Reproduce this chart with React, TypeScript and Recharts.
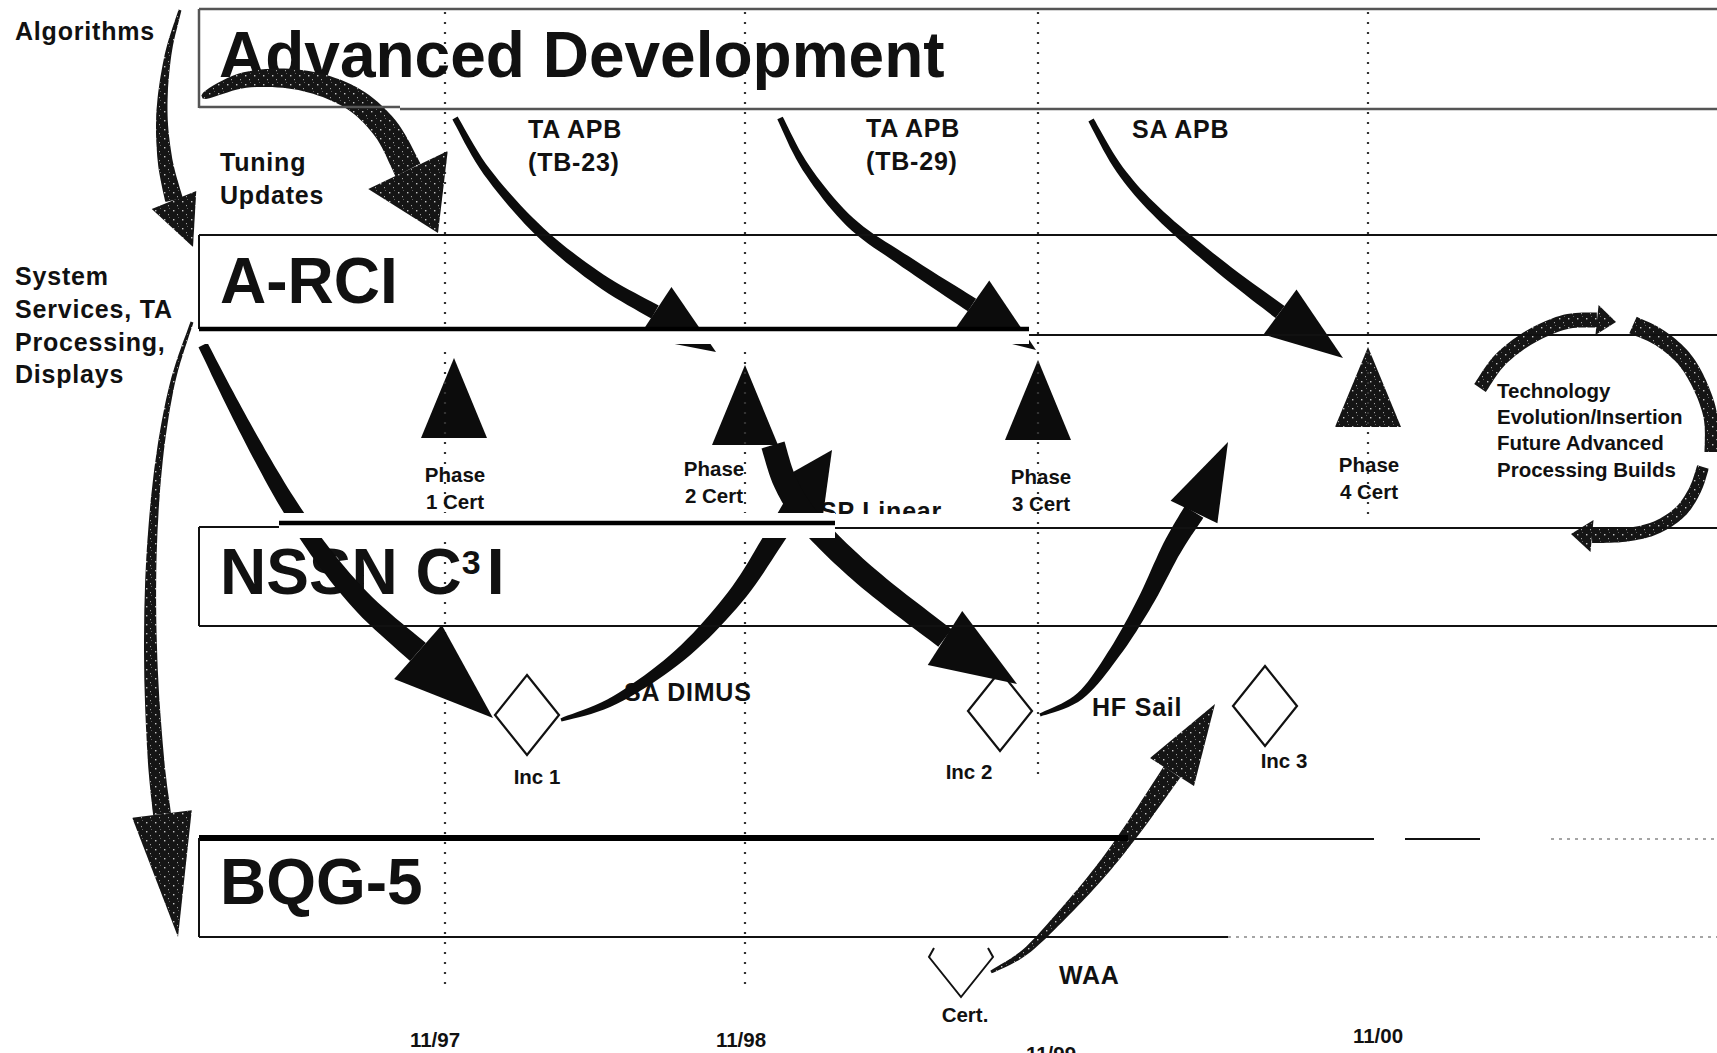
import React from "react";
import { ComposedChart, XAxis, YAxis, Line, Scatter, ReferenceLine, ReferenceArea } from "recharts";

const W = 1717;
const H = 1053;
const FONT = "'Liberation Sans', Arial, Helvetica, sans-serif";

// dotted schedule guides and the dates under them
const dateTicks = ["11/97", "11/98", "11/99", "11/00"];
const guideX = [445, 745, 1038, 1368];
const guideEnd = [987, 987, 780, 520];
const dateX = [435, 741, 1051, 1378];
const dateY = [1047, 1047, 1061, 1043];

// swim lanes
const laneNames = ["Advanced Development", "A-RCI", "NSSN C3I", "BQG-5"];
const laneTextX = [219, 220, 220, 220];
const laneTextY = [77, 303, 594, 904];

// lane outlines: x1, y1, x2, y2, weight
const laneRules: [number, number, number, number, string][] = [
  [199, 9, 1717, 9, "grey"],
  [199, 9, 199, 108, "grey"],
  [199, 107, 400, 107, "grey"],
  [400, 109, 1717, 109, "grey"],
  [199, 235, 1717, 235, "thin"],
  [199, 235, 199, 329, "thin"],
  [199, 329, 1029, 329, "thick"],
  [1029, 335, 1717, 335, "thin"],
  [199, 527, 279, 527, "thin"],
  [279, 523, 835, 523, "thick"],
  [835, 528, 1717, 528, "thin"],
  [199, 527, 199, 626, "thin"],
  [199, 626, 1717, 626, "thin"],
  [199, 838, 1128, 838, "heavy"],
  [1128, 839, 1374, 839, "thin"],
  [1405, 839, 1480, 839, "thin"],
  [1551, 839, 1717, 839, "faint"],
  [199, 838, 199, 937, "thin"],
  [199, 937, 1228, 937, "thin"],
  [1228, 937, 1717, 937, "faint"],
];

// white gaps where the lane edges cut across the arrows
const gaps: [number, number, number, number][] = [
  [199, 331, 1029, 344],
  [279, 513, 835, 538],
];

// certification milestones (triangles)
const certNames = ["1", "2", "3", "4"];
const certX = [454, 745, 1038, 1368];
const certBase = [438, 445, 440, 427];
const certLabelX = [455, 714, 1041, 1369];
const certLabelY = [482, 476, 484, 472];
const texturedCert = "4";

// increments (diamonds)
const incNames = ["Inc 1", "Inc 2", "Inc 3", "Cert."];
const incX = [527, 1000, 1265, 961];
const incY = [715, 711, 706, 957];
const incLabelX = [537, 969, 1284, 965];
const incLabelY = [784, 779, 768, 1022];

// free text
const notes: [string, number, number][] = [
  ["Algorithms", 15, 40],
  ["System", 15, 285],
  ["Services, TA", 15, 318],
  ["Processing,", 15, 351],
  ["Displays", 15, 383],
  ["Tuning", 220, 171],
  ["Updates", 220, 204],
  ["TA APB", 528, 138],
  ["(TB-23)", 528, 171],
  ["TA APB", 866, 137],
  ["(TB-29)", 866, 170],
  ["SA APB", 1132, 138],
  ["SA DIMUS", 624, 701],
  ["HF Sail", 1092, 716],
  ["WAA", 1059, 984],
];
// caption half hidden under the NSSN lane edge
const cutNotes: [string, number, number][] = [["SP Linear", 820, 520]];
const loopNotes: [string, number, number][] = [
  ["Technology", 1497, 398],
  ["Evolution/Insertion", 1497, 424],
  ["Future Advanced", 1497, 450],
  ["Processing Builds", 1497, 477],
];

// arrows, tail first, tip last
const algorithmsArrow = [[180, 10], [168, 55], [162, 110], [165, 160], [174, 200], [193, 247]];
const tuningArrow = [[202, 97], [245, 80], [300, 80], [350, 97], [385, 128], [408, 170], [438, 233]];
const tb23Arrow = [[455, 118], [487, 172], [540, 232], [600, 280], [655, 312], [716, 352]];
const tb29Arrow = [[780, 118], [806, 168], [850, 222], [906, 262], [972, 305], [1036, 350]];
const saApbArrow = [[1091, 120], [1120, 170], [1160, 215], [1222, 268], [1280, 312], [1343, 358]];
const servicesArrow = [[192, 322], [172, 385], [158, 470], [151, 570], [151, 670], [156, 760], [162, 814], [178, 937]];
const arciArrow = [[203, 345], [228, 395], [256, 448], [287, 502], [322, 554], [365, 605], [418, 652], [493, 718]];
const dimusArrow = [[561, 720], [615, 700], [680, 655], [735, 597], [773, 540], [798, 500], [832, 450]];
const phase2Arrow = [[773, 445], [785, 482], [805, 515], [835, 548], [880, 588], [945, 638], [1017, 684]];
const hfSailArrow = [[1040, 715], [1080, 696], [1115, 652], [1145, 602], [1172, 548], [1194, 512], [1228, 442]];
const waaArrow = [[991, 972], [1025, 952], [1062, 915], [1100, 872], [1132, 830], [1172, 772], [1215, 704]];
const loopTop = [[1480, 388], [1500, 360], [1530, 337], [1565, 322], [1597, 320], [1616, 322]];
const loopRight = [[1633, 325], [1660, 338], [1685, 360], [1702, 390], [1711, 420], [1711, 452]];
const loopBottom = [[1703, 467], [1695, 490], [1680, 512], [1655, 528], [1625, 535], [1592, 536], [1571, 534]];

const arrows: Record<string, number[][]> = {
  algorithms: algorithmsArrow,
  tuning: tuningArrow,
  tb23: tb23Arrow,
  tb29: tb29Arrow,
  saApb: saApbArrow,
  services: servicesArrow,
  arci: arciArrow,
  dimus: dimusArrow,
  phase2: phase2Arrow,
  hfSail: hfSailArrow,
  waa: waaArrow,
  loopTop,
  loopRight,
  loopBottom,
};

type ArrowStyle = { w0: number; w1: number; head: number; grow?: number; speck?: boolean };
const arrowStyle: Record<string, ArrowStyle> = {
  algorithms: { w0: 3, w1: 18, head: 24, speck: true },
  tuning: { w0: 3, w1: 28, head: 44, grow: 0.4, speck: true },
  tb23: { w0: 6, w1: 15, head: 30 },
  tb29: { w0: 6, w1: 15, head: 30 },
  saApb: { w0: 6, w1: 15, head: 28 },
  services: { w0: 3, w1: 18, head: 30, speck: true },
  arci: { w0: 10, w1: 24, head: 36 },
  dimus: { w0: 3, w1: 22, head: 30, grow: 0.7 },
  phase2: { w0: 24, w1: 22, head: 32 },
  hfSail: { w0: 3, w1: 22, head: 26, grow: 0.8 },
  waa: { w0: 3, w1: 20, head: 26, grow: 0.8, speck: true },
  loopTop: { w0: 14, w1: 15, head: 15, speck: true },
  loopRight: { w0: 18, w1: 13, head: 0, speck: true },
  loopBottom: { w0: 12, w1: 14, head: 16, speck: true },
};

const INK = "#0c0c0c";

const ruleStyle: Record<string, { stroke: string; width: number; dash?: string }> = {
  grey: { stroke: "#555", width: 2.5 },
  thin: { stroke: "#111", width: 2 },
  thick: { stroke: "#000", width: 4.5 },
  heavy: { stroke: "#000", width: 6 },
  faint: { stroke: "#888", width: 1.5, dash: "3 5" },
};

const textKinds: Record<string, { size: number; anchor: "start" | "middle"; spacing?: number }> = {
  title: { size: 64, anchor: "start" },
  note: { size: 25, anchor: "start", spacing: 0.8 },
  cut: { size: 25, anchor: "start", spacing: 0.8 },
  small: { size: 20.5, anchor: "start" },
  centre: { size: 20.5, anchor: "middle" },
};

function Speckle({ id }: { id: string }) {
  return (
    <defs>
      <pattern id={id} width={9} height={9} patternUnits="userSpaceOnUse">
        <rect width={9} height={9} fill="#151515" />
        <rect x={2} y={3} width={1.4} height={1.4} fill="#fff" opacity={0.75} />
        <rect x={6} y={7} width={1} height={1.2} fill="#fff" opacity={0.6} />
        <rect x={7} y={1} width={0.8} height={0.8} fill="#fff" opacity={0.5} />
      </pattern>
    </defs>
  );
}

// catmull-rom through the projected points
function smooth(p: number[][], steps = 10) {
  if (p.length < 3) return p;
  const out: number[][] = [];
  for (let i = 0; i < p.length - 1; i++) {
    const p0 = p[Math.max(i - 1, 0)];
    const p1 = p[i];
    const p2 = p[i + 1];
    const p3 = p[Math.min(i + 2, p.length - 1)];
    for (let s = 0; s < steps; s++) {
      const t = s / steps;
      const t2 = t * t;
      const t3 = t2 * t;
      out.push(
        [0, 1].map(
          (k) =>
            0.5 *
            (2 * p1[k] +
              (-p0[k] + p2[k]) * t +
              (2 * p0[k] - 5 * p1[k] + 4 * p2[k] - p3[k]) * t2 +
              (-p0[k] + 3 * p1[k] - 3 * p2[k] + p3[k]) * t3)
        )
      );
    }
  }
  out.push(p[p.length - 1]);
  return out;
}

function ribbon(s: number[][], w0: number, w1: number, grow: number) {
  const n = s.length;
  const len = [0];
  for (let i = 1; i < n; i++) len.push(len[i - 1] + Math.hypot(s[i][0] - s[i - 1][0], s[i][1] - s[i - 1][1]));
  const total = len[n - 1] || 1;
  const left: number[][] = [];
  const right: number[][] = [];
  for (let i = 0; i < n; i++) {
    const a = s[Math.max(i - 1, 0)];
    const b = s[Math.min(i + 1, n - 1)];
    const dx = b[0] - a[0];
    const dy = b[1] - a[1];
    const d = Math.hypot(dx, dy) || 1;
    const nx = -dy / d;
    const ny = dx / d;
    const hw = (w0 + (w1 - w0) * Math.pow(len[i] / total, grow)) / 2;
    left.push([s[i][0] + nx * hw, s[i][1] + ny * hw]);
    right.push([s[i][0] - nx * hw, s[i][1] - ny * hw]);
  }
  const f = (q: number[]) => `${q[0].toFixed(1)},${q[1].toFixed(1)}`;
  return `M${left.map(f).join("L")}L${right.reverse().map(f).join("L")}Z`;
}

function arrowDot(id: string) {
  return (props: any) => {
    const { index, points } = props;
    if (!points || index !== points.length - 1) return <g key={`${id}-${index}`} />;
    const st = arrowStyle[id];
    const px: number[][] = points.map((p: any) => [p.x, p.y]);
    const shaft = st.head > 0 ? px.slice(0, -1) : px;
    const body = ribbon(smooth(shaft), st.w0, st.w1, st.grow ?? 1);
    let head = "";
    if (st.head > 0) {
      const b = px[px.length - 2];
      const t = px[px.length - 1];
      const d = Math.hypot(t[0] - b[0], t[1] - b[1]) || 1;
      const nx = -(t[1] - b[1]) / d;
      const ny = (t[0] - b[0]) / d;
      head = `M${b[0] + nx * st.head},${b[1] + ny * st.head}L${t[0]},${t[1]}L${b[0] - nx * st.head},${b[1] - ny * st.head}Z`;
    }
    const fill = st.speck ? `url(#speck-${id})` : INK;
    return (
      <g key={`${id}-arrow`}>
        {st.speck && <Speckle id={`speck-${id}`} />}
        <path d={body} fill={fill} />
        {head && <path d={head} fill={fill} />}
      </g>
    );
  };
}

const certRows = certNames.map((name, i) => ({ name, x: certX[i], y: certBase[i] }));
const incRows = incNames.map((name, i) => ({ name, x: incX[i], y: incY[i] }));

const textRows = [
  ...laneNames.map((text, i) => ({ text, x: laneTextX[i], y: laneTextY[i], kind: "title" })),
  ...notes.map(([text, x, y]) => ({ text, x, y, kind: "note" })),
  ...cutNotes.map(([text, x, y]) => ({ text, x, y, kind: "cut" })),
  ...loopNotes.map(([text, x, y]) => ({ text, x, y, kind: "small" })),
  ...certNames.flatMap((n, i) => [
    { text: "Phase", x: certLabelX[i], y: certLabelY[i], kind: "centre" },
    { text: `${n} Cert`, x: certLabelX[i], y: certLabelY[i] + 27, kind: "centre" },
  ]),
  ...incNames.map((text, i) => ({ text, x: incLabelX[i], y: incLabelY[i], kind: "centre" })),
  ...dateTicks.map((text, i) => ({ text, x: dateX[i], y: dateY[i], kind: "centre" })),
];

function CertShape(props: any) {
  const { cx, cy, payload } = props;
  const h = 80;
  const hw = 33;
  const textured = payload.name === texturedCert;
  return (
    <g>
      {textured && <Speckle id="speck-cert" />}
      <polygon
        points={`${cx},${cy - h} ${cx + hw},${cy} ${cx - hw},${cy}`}
        fill={textured ? "url(#speck-cert)" : INK}
      />
    </g>
  );
}

function IncShape(props: any) {
  const { cx, cy, payload } = props;
  const hw = 32;
  const hh = 40;
  if (payload.name === "Cert.") {
    return (
      <polyline
        points={`${cx - hw + 5},${cy - 9} ${cx - hw},${cy} ${cx},${cy + hh} ${cx + hw},${cy} ${cx + hw - 5},${cy - 9}`}
        fill="none"
        stroke="#111"
        strokeWidth={2}
      />
    );
  }
  return (
    <polygon
      points={`${cx},${cy - hh} ${cx + hw},${cy} ${cx},${cy + hh} ${cx - hw},${cy}`}
      fill="#fff"
      stroke="#111"
      strokeWidth={2.2}
    />
  );
}

function TextShape(props: any) {
  const { cx, cy, payload } = props;
  const k = textKinds[payload.kind];
  const common = {
    x: cx,
    y: cy,
    fontFamily: FONT,
    fontWeight: 700,
    fontSize: k.size,
    textAnchor: k.anchor,
    letterSpacing: k.spacing ?? 0,
    fill: "#111",
  };
  if (payload.text === "NSSN C3I") {
    return (
      <text {...common}>
        NSSN C
        <tspan fontSize={34} dy={-20}>
          3
        </tspan>
        <tspan dy={20} dx={6}>
          I
        </tspan>
      </text>
    );
  }
  if (payload.kind === "cut") {
    // only the top of the glyphs shows above the lane edge
    return (
      <g>
        <defs>
          <clipPath id="cut-caption">
            <rect x={cx - 10} y={cy - 40} width={300} height={34} />
          </clipPath>
        </defs>
        <text {...common} clipPath="url(#cut-caption)">
          {payload.text}
        </text>
      </g>
    );
  }
  return <text {...common}>{payload.text}</text>;
}

export default function App() {
  return (
    <div style={{ position: "absolute", left: 0, top: 0, width: W, height: H, background: "#fff", overflow: "hidden" }}>
      <ComposedChart width={W} height={H} margin={{ top: 0, right: 0, bottom: 0, left: 0 }}>
        <XAxis type="number" dataKey="x" domain={[0, W]} allowDataOverflow hide />
        <YAxis type="number" dataKey="y" domain={[0, H]} allowDataOverflow reversed hide />

        <Scatter data={certRows} shape={CertShape} isAnimationActive={false} zIndex={100} />

        {guideX.map((x, i) => (
          <ReferenceLine
            key={`g${i}`}
            segment={[{ x, y: 12 }, { x, y: guideEnd[i] }]}
            stroke="#333"
            strokeWidth={2.2}
            strokeDasharray="2 8"
            zIndex={200}
          />
        ))}

        <Scatter data={textRows} shape={TextShape} isAnimationActive={false} zIndex={300} />

        {Object.keys(arrows).map((id) => (
          <Line
            key={id}
            data={arrows[id].map(([x, y]) => ({ x, y }))}
            dataKey="y"
            type="linear"
            stroke="none"
            strokeWidth={0}
            dot={arrowDot(id)}
            activeDot={false}
            legendType="none"
            isAnimationActive={false}
            zIndex={400}
          />
        ))}

        <Scatter data={incRows} shape={IncShape} isAnimationActive={false} zIndex={500} />

        {gaps.map(([x1, y1, x2, y2], i) => (
          <ReferenceArea
            key={`o${i}`}
            x1={x1}
            x2={x2}
            y1={y1}
            y2={y2}
            fill="#fff"
            fillOpacity={1}
            stroke="none"
            ifOverflow="visible"
            zIndex={600}
          />
        ))}

        {laneRules.map(([x1, y1, x2, y2, w], i) => (
          <ReferenceLine
            key={`r${i}`}
            segment={[{ x: x1, y: y1 }, { x: x2, y: y2 }]}
            stroke={ruleStyle[w].stroke}
            strokeWidth={ruleStyle[w].width}
            strokeDasharray={ruleStyle[w].dash}
            ifOverflow="visible"
            zIndex={700}
          />
        ))}
      </ComposedChart>
    </div>
  );
}
